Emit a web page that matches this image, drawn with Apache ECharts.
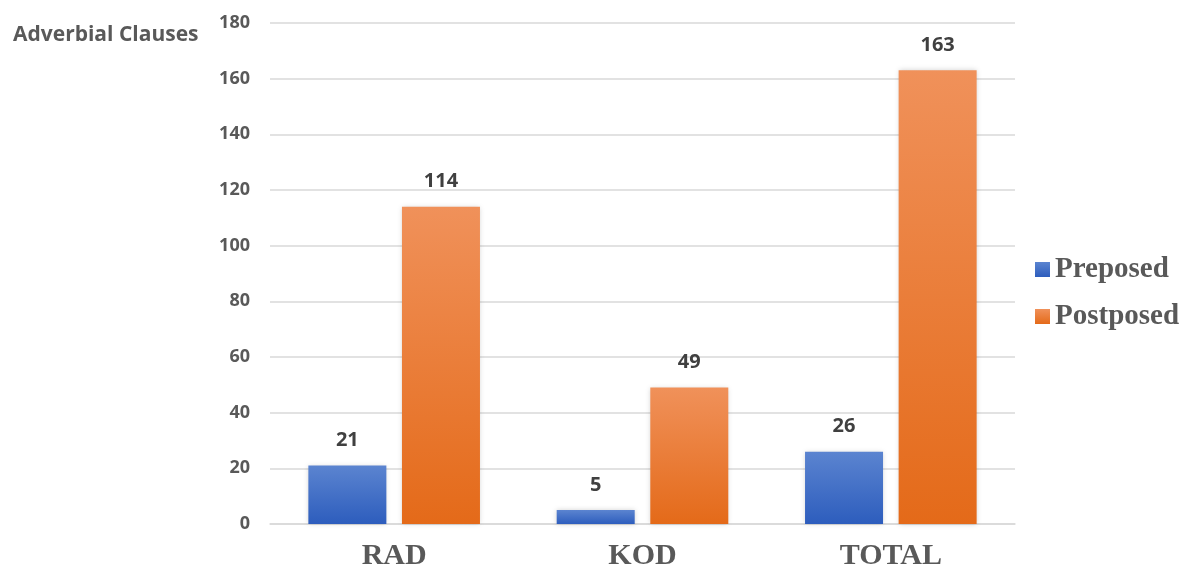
<!DOCTYPE html>
<html>
<head>
<meta charset="utf-8">
<script src="https://cdn.jsdelivr.net/npm/echarts@6/dist/echarts.min.js"></script>
<style>
  html, body { margin: 0; padding: 0; background: #fff; }
  #chart { width: 1180px; height: 571px; }
</style>
</head>
<body>
<div id="chart"></div>
<script>
var categories = ["RAD", "KOD", "TOTAL"];
var preposed = [21, 5, 26];
var postposed = [114, 49, 163];
var yTicks = { min: 0, max: 180, interval: 20 };

var chart = echarts.init(document.getElementById("chart"));

function grad(top, bottom) {
  return new echarts.graphic.LinearGradient(0, 0, 0, 1, [
    { offset: 0, color: top },
    { offset: 1, color: bottom }
  ]);
}

var labelStyle = {
  show: true,
  position: "top",
  distance: 15,
  fontFamily: "Open Sans",
  fontWeight: "bold",
  fontSize: 20,
  color: "#404040"
};

chart.setOption({
  animation: false,
  title: {
    text: "Adverbial Clauses",
    left: 8,
    top: 20,
    textStyle: { fontFamily: "Open Sans", fontWeight: "bold", fontSize: 21, color: "#595959" }
  },
  legend: {
    orient: "vertical",
    left: 1030,
    top: 250,
    itemWidth: 15,
    itemHeight: 15,
    itemGap: 18,
    icon: "rect",
    textStyle: { fontFamily: "Liberation Serif", fontWeight: "bold", fontSize: 29, color: "#595959" },
    data: ["Preposed", "Postposed"]
  },
  grid: { left: 270, right: 165, top: 23, bottom: 45 },
  xAxis: {
    type: "category",
    data: categories,
    axisTick: { show: false },
    axisLine: { lineStyle: { color: "#d9d9d9", width: 1.5 } },
    axisLabel: {
      margin: 17,
      fontFamily: "Liberation Serif",
      fontWeight: "bold",
      fontSize: 30,
      color: "#595959"
    }
  },
  yAxis: {
    type: "value",
    min: yTicks.min,
    max: yTicks.max,
    interval: yTicks.interval,
    axisLine: { show: false },
    axisTick: { show: false },
    splitLine: { lineStyle: { color: "#d9d9d9", width: 1.5 } },
    axisLabel: {
      margin: 20,
      fontFamily: "Open Sans",
      fontWeight: "bold",
      fontSize: 18,
      color: "#595959"
    }
  },
  series: [
    {
      name: "Preposed",
      type: "bar",
      data: preposed,
      barWidth: 78,
      barGap: "20%",
      itemStyle: {
        color: grad("#5b84d0", "#2d5dbd"),
        shadowBlur: 5,
        shadowColor: "rgba(0,0,0,0.18)"
      },
      label: labelStyle
    },
    {
      name: "Postposed",
      type: "bar",
      data: postposed,
      barWidth: 78,
      itemStyle: {
        color: grad("#f0915a", "#e46a19"),
        shadowBlur: 5,
        shadowColor: "rgba(0,0,0,0.18)"
      },
      label: labelStyle
    }
  ]
});
</script>
</body>
</html>
